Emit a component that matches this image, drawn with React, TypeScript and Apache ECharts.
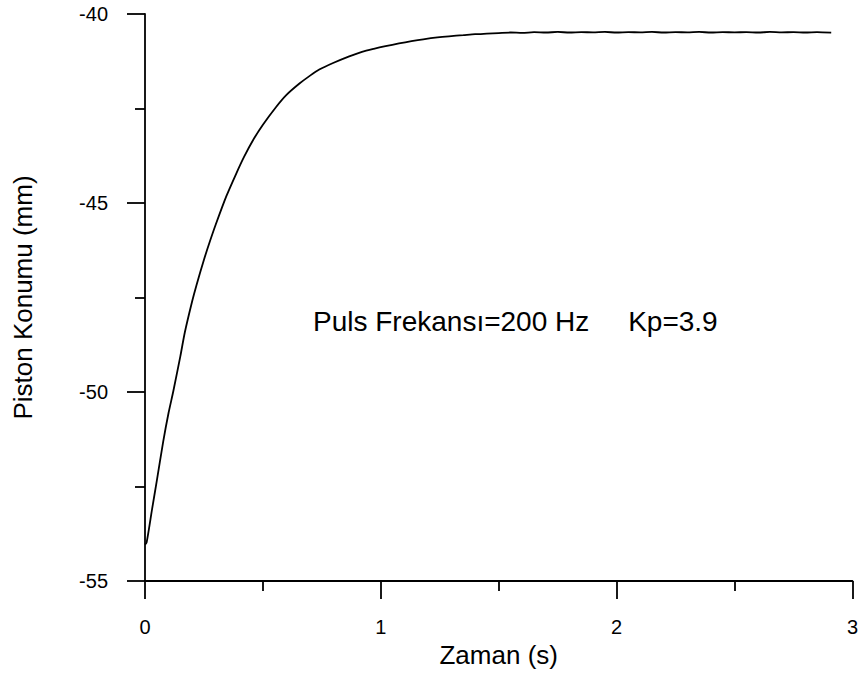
import React, { useEffect, useRef } from "react";
import * as echarts from "echarts";

// Time (s)
const timeSec = [
  0, 0.007, 0.03, 0.05, 0.077, 0.1, 0.12, 0.15, 0.169, 0.2, 0.218, 0.25, 0.275, 0.3,
  0.345, 0.387, 0.42, 0.458, 0.5, 0.556, 0.6, 0.655, 0.7, 0.739, 0.8, 0.866, 0.92,
  0.97, 1.02, 1.077, 1.13, 1.18, 1.24, 1.289, 1.35, 1.4, 1.45, 1.5, 1.55, 1.6, 1.65,
  1.7, 1.75, 1.8, 1.85, 1.9, 1.95, 2.0, 2.05, 2.1, 2.15, 2.2, 2.25, 2.3, 2.35, 2.4,
  2.45, 2.5, 2.55, 2.6, 2.65, 2.7, 2.75, 2.8, 2.85, 2.91,
];

// Piston position (mm)
const pistonMm = [
  -54.04, -53.98, -53.1, -52.35, -51.32, -50.55, -49.98, -49.05, -48.42, -47.6, -47.18,
  -46.5, -46.02, -45.57, -44.82, -44.22, -43.78, -43.34, -42.93, -42.46, -42.14, -41.84,
  -41.63, -41.47, -41.29, -41.12, -41.0, -40.92, -40.85, -40.78, -40.72, -40.67, -40.62,
  -40.59, -40.56, -40.535, -40.52, -40.505, -40.49, -40.5, -40.48, -40.49, -40.475, -40.49,
  -40.48, -40.485, -40.475, -40.49, -40.48, -40.485, -40.475, -40.49, -40.48, -40.485,
  -40.475, -40.49, -40.48, -40.485, -40.48, -40.49, -40.475, -40.485, -40.48, -40.49,
  -40.48, -40.495,
];

const xAxisName = "Zaman (s)";
const yAxisName = "Piston Konumu (mm)";
const annotationText = "Puls Frekansı=200 Hz     Kp=3.9";

const FONT = "'Liberation Sans', Arial, Helvetica, sans-serif";
const axisLine = { color: "#000", width: 1.8 };

export default function App() {
  const ref = useRef<HTMLDivElement>(null);

  useEffect(() => {
    if (!ref.current) return;
    const chart = echarts.init(ref.current, null, { renderer: "svg" });
    chart.setOption({
      animation: false,
      backgroundColor: "#ffffff",
      grid: { left: 145, top: 14, right: 6, bottom: 90, containLabel: false },
      xAxis: {
        type: "value",
        min: 0,
        max: 3,
        interval: 1,
        name: xAxisName,
        nameLocation: "middle",
        nameGap: 61,
        nameTextStyle: { color: "#000", fontSize: 26, fontFamily: FONT },
        axisLine: { show: true, onZero: false, lineStyle: axisLine },
        axisTick: { show: true, length: 18, lineStyle: axisLine },
        minorTick: { show: true, splitNumber: 2, length: 10, lineStyle: axisLine },
        axisLabel: {
          margin: 36,
          color: "#000",
          fontSize: 20,
          fontFamily: FONT,
          formatter: (v: number) => (Number.isInteger(v) ? String(v) : ""),
        },
        splitLine: { show: false },
        minorSplitLine: { show: false },
      },
      yAxis: {
        type: "value",
        min: -55,
        max: -40,
        interval: 5,
        name: yAxisName,
        nameLocation: "middle",
        nameGap: 109,
        nameTextStyle: { color: "#000", fontSize: 26, fontFamily: FONT },
        axisLine: { show: true, onZero: false, lineStyle: axisLine },
        axisTick: { show: true, length: 18, lineStyle: axisLine },
        minorTick: { show: true, splitNumber: 2, length: 10, lineStyle: axisLine },
        axisLabel: { margin: 37, color: "#000", fontSize: 20, fontFamily: FONT },
        splitLine: { show: false },
        minorSplitLine: { show: false },
      },
      graphic: [
        {
          type: "text",
          x: 313,
          y: 321,
          style: {
            text: annotationText,
            fill: "#000",
            fontSize: 28,
            fontFamily: FONT,
            verticalAlign: "middle",
          },
        },
      ],
      series: [
        {
          type: "line",
          data: timeSec.map((t, i) => [t, pistonMm[i]]),
          showSymbol: false,
          smooth: 0.25,
          lineStyle: { color: "#000", width: 1.8 },
        },
      ],
    });
    return () => chart.dispose();
  }, []);

  return (
    <div
      ref={ref}
      style={{ position: "fixed", left: 0, top: 0, width: 861, height: 673 }}
    />
  );
}
